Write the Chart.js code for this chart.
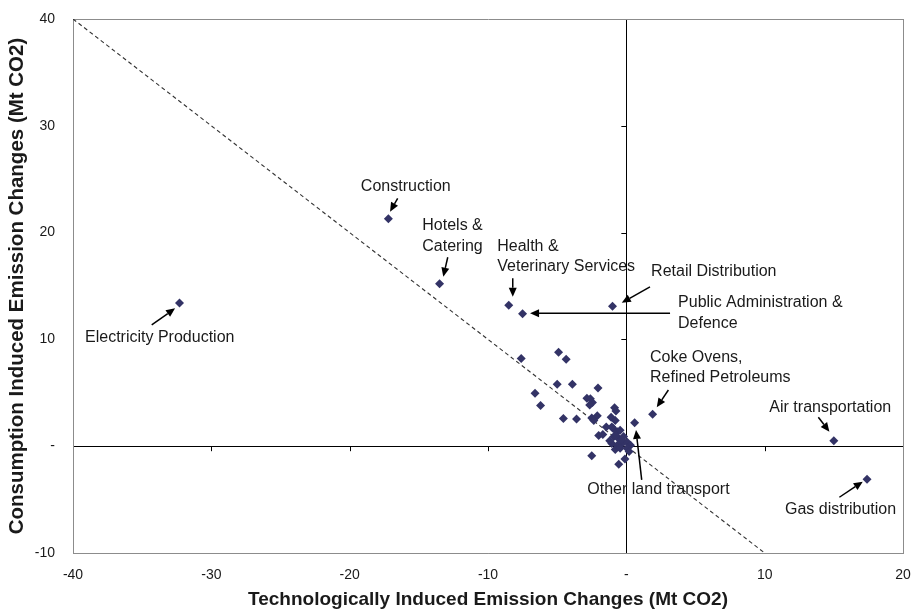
<!DOCTYPE html>
<html>
<head>
<meta charset="utf-8">
<script src="https://cdn.jsdelivr.net/npm/chart.js@4/dist/chart.umd.min.js"></script>
<style>
  html, body { margin: 0; padding: 0; background: #ffffff; }
  #wrap { width: 913px; height: 611px; }
</style>
</head>
<body>
<div id="wrap"><canvas id="chart" width="913" height="611"></canvas></div>
<script>
// Sector emission changes (Mt CO2): technology effect (x) vs consumption effect (y)
const techChange = [
  -32.3, -17.2, -13.5, -8.5, -7.5, -1.0, 1.9, 0.6, 15.0, 17.4,
  -7.6, -4.9, -4.35, -5.0, -3.9, -6.6, -6.2, -2.05, -2.85, -2.45,
  -2.6, -2.65, -0.85, -0.75, -4.55, -3.6, -2.5, -2.1, -2.35, -1.1,
  -0.8, -1.45, -0.95, -2.0, -1.7, -1.05, -0.65, -0.45, -0.9, -0.55,
  -0.2, -1.05, -0.65, -0.3, 0.05, 0.3, -0.8, -0.45, 0.05, -2.5,
  -0.1, -0.55, -1.2, -0.75, 0.2, -0.35
];
const consumptionChange = [
  13.4, 21.3, 15.2, 13.2, 12.4, 13.1, 3.0, 2.2, 0.5, -3.1,
  8.2, 8.8, 8.15, 5.8, 5.8, 4.95, 3.8, 5.45, 4.5, 4.1,
  4.45, 3.85, 3.6, 3.3, 2.6, 2.55, 2.65, 2.85, 2.4, 2.7,
  2.4, 1.8, 1.65, 1.0, 1.1, 1.8, 1.35, 1.5, 0.9, 0.7,
  0.9, 0.25, 0.1, 0.25, 0.4, 0.1, -0.3, -0.2, -0.2, -0.9,
  -1.2, -1.7, 0.5, 1.0, -0.5, 0.6
];
// Reference line where the two effects cancel (y = -x)
const balanceX = [-40, 10];
const balanceY = [40, -10];

const xTicks = [-40, -30, -20, -10, 0, 10, 20];
const yTicks = [-10, 0, 10, 20, 30, 40];

// Callouts: text anchor and arrow (tail -> head) in data units
const callouts = [
  { lines: ['Electricity Production'], at: [-39.13, 9.76], tail: [-34.31, 11.35], head: [-32.62, 12.91] },
  { lines: ['Construction'], at: [-19.19, 23.85], tail: [-16.53, 23.21], head: [-17.08, 21.96] },
  { lines: ['Hotels &', 'Catering'], at: [-14.75, 20.24], tail: [-12.91, 17.69], head: [-13.23, 15.87] },
  { lines: ['Health &', 'Veterinary Services'], at: [-9.33, 18.28], tail: [-8.21, 15.72], head: [-8.21, 14.0] },
  { lines: ['Retail Distribution'], at: [1.79, 15.94], tail: [1.71, 14.91], head: [-0.33, 13.44] },
  { lines: ['Public Administration &', 'Defence'], at: [3.74, 12.99], tail: [3.16, 12.44], head: [-6.96, 12.44] },
  { lines: ['Coke Ovens,', 'Refined Petroleums'], at: [1.71, 7.91], tail: [3.04, 5.26], head: [2.2, 3.64] },
  { lines: ['Air transportation'], at: [10.34, 3.17], tail: [13.88, 2.71], head: [14.68, 1.36] },
  { lines: ['Other land transport'], at: [-2.82, -4.48], tail: [1.11, -3.16], head: [0.70, 1.52] },
  { lines: ['Gas distribution'], at: [11.47, -6.38], tail: [15.4, -4.78], head: [17.09, -3.32] }
];

const FONT = "'Liberation Sans', Arial, sans-serif";
const TEXT = '#1a1a1a';

const sectorPoints = techChange.map((x, i) => ({ x, y: consumptionChange[i] }));
const balancePoints = balanceX.map((x, i) => ({ x, y: balanceY[i] }));

function lineColor(value, lo, hi) {
  if (value === 0) return '#000000';
  if (value === lo || value === hi) return '#8c8c8c';
  return 'rgba(0,0,0,0)';
}

// Small outward tick marks on the zero axes
const zeroAxisTicks = {
  id: 'zeroAxisTicks',
  beforeDatasetsDraw(chart) {
    const { ctx, scales: { x, y } } = chart;
    const x0 = x.getPixelForValue(0), y0 = y.getPixelForValue(0);
    ctx.save();
    ctx.strokeStyle = '#000';
    ctx.lineWidth = 1;
    ctx.beginPath();
    xTicks.forEach(v => {
      if (v === 0 || v === x.min || v === x.max) return;
      const px = Math.round(x.getPixelForValue(v)) + 0.5;
      ctx.moveTo(px, y0); ctx.lineTo(px, y0 + 5);
    });
    yTicks.forEach(v => {
      if (v === 0 || v === y.min || v === y.max) return;
      const py = Math.round(y.getPixelForValue(v)) + 0.5;
      ctx.moveTo(x0, py); ctx.lineTo(x0 - 5, py);
    });
    ctx.stroke();
    ctx.restore();
  }
};

// Sector names with pointing arrows
const calloutLabels = {
  id: 'calloutLabels',
  afterDatasetsDraw(chart) {
    const { ctx, scales: { x, y } } = chart;
    ctx.save();
    ctx.font = '16px ' + FONT;
    ctx.fillStyle = TEXT;
    ctx.textAlign = 'left';
    ctx.textBaseline = 'alphabetic';
    callouts.forEach(c => {
      const tx = x.getPixelForValue(c.at[0]);
      const ty = y.getPixelForValue(c.at[1]);
      c.lines.forEach((ln, i) => ctx.fillText(ln, tx, ty + i * 20.5));

      const ax = x.getPixelForValue(c.tail[0]), ay = y.getPixelForValue(c.tail[1]);
      const bx = x.getPixelForValue(c.head[0]), by = y.getPixelForValue(c.head[1]);
      const ang = Math.atan2(by - ay, bx - ax);
      const headLen = 9, headW = 4;
      const sx = bx - Math.cos(ang) * headLen, sy = by - Math.sin(ang) * headLen;
      ctx.strokeStyle = '#000';
      ctx.lineWidth = 1.5;
      ctx.beginPath();
      ctx.moveTo(ax, ay); ctx.lineTo(sx, sy);
      ctx.stroke();
      ctx.fillStyle = '#000';
      ctx.beginPath();
      ctx.moveTo(bx, by);
      ctx.lineTo(sx - Math.sin(ang) * headW, sy + Math.cos(ang) * headW);
      ctx.lineTo(sx + Math.sin(ang) * headW, sy - Math.cos(ang) * headW);
      ctx.closePath();
      ctx.fill();
      ctx.fillStyle = TEXT;
    });
    ctx.restore();
  }
};

new Chart(document.getElementById('chart'), {
  type: 'scatter',
  data: {
    datasets: [
      {
        label: 'Sectors',
        data: sectorPoints,
        pointStyle: 'rectRot',
        pointRadius: 4.5,
        pointBorderWidth: 0,
        backgroundColor: '#333366',
        borderColor: '#333366',
        order: 0
      },
      {
        label: 'Balance',
        data: balancePoints,
        showLine: true,
        borderColor: '#333333',
        borderWidth: 1.1,
        borderDash: [4, 3],
        pointRadius: 0,
        order: 1
      }
    ]
  },
  options: {
    responsive: false,
    animation: false,
    events: [],
    layout: { padding: { top: 19, right: 10, left: 0, bottom: 0 } },
    plugins: { legend: { display: false }, tooltip: { enabled: false } },
    scales: {
      x: {
        type: 'linear',
        min: -40, max: 20,
        afterBuildTicks: s => { s.ticks = xTicks.map(v => ({ value: v })); },
        afterFit: s => { s.height = 58; s.paddingLeft = 0; s.paddingRight = 0; },
        ticks: {
          callback: v => (v === 0 ? '-' : v),
          font: { family: FONT, size: 14 },
          color: TEXT,
          padding: 14,
          maxRotation: 0
        },
        grid: {
          drawTicks: false,
          color: c => lineColor(c.tick ? c.tick.value : null, -40, 20),
          lineWidth: 1
        },
        border: { display: true, color: '#8c8c8c' },
        title: {
          display: true,
          text: 'Technologically Induced Emission Changes (Mt CO2)',
          font: { family: FONT, size: 19, weight: 'bold' },
          color: TEXT,
          padding: { top: 0, bottom: 0 }
        }
      },
      y: {
        type: 'linear',
        min: -10, max: 40,
        afterBuildTicks: s => { s.ticks = yTicks.map(v => ({ value: v })); },
        afterFit: s => { s.width = 73; s.paddingTop = 0; s.paddingBottom = 0; },
        ticks: {
          callback: v => (v === 0 ? '-' : v),
          font: { family: FONT, size: 14 },
          color: TEXT,
          padding: 18
        },
        grid: {
          drawTicks: false,
          color: c => lineColor(c.tick ? c.tick.value : null, -10, 40),
          lineWidth: 1
        },
        border: { display: true, color: '#8c8c8c' },
        title: {
          display: true,
          text: 'Consumption Induced Emission Changes (Mt CO2)',
          font: { family: FONT, size: 20.5, weight: 'bold' },
          color: TEXT,
          padding: { top: 5, bottom: 0 }
        }
      }
    }
  },
  plugins: [zeroAxisTicks, calloutLabels]
});
</script>
</body>
</html>
